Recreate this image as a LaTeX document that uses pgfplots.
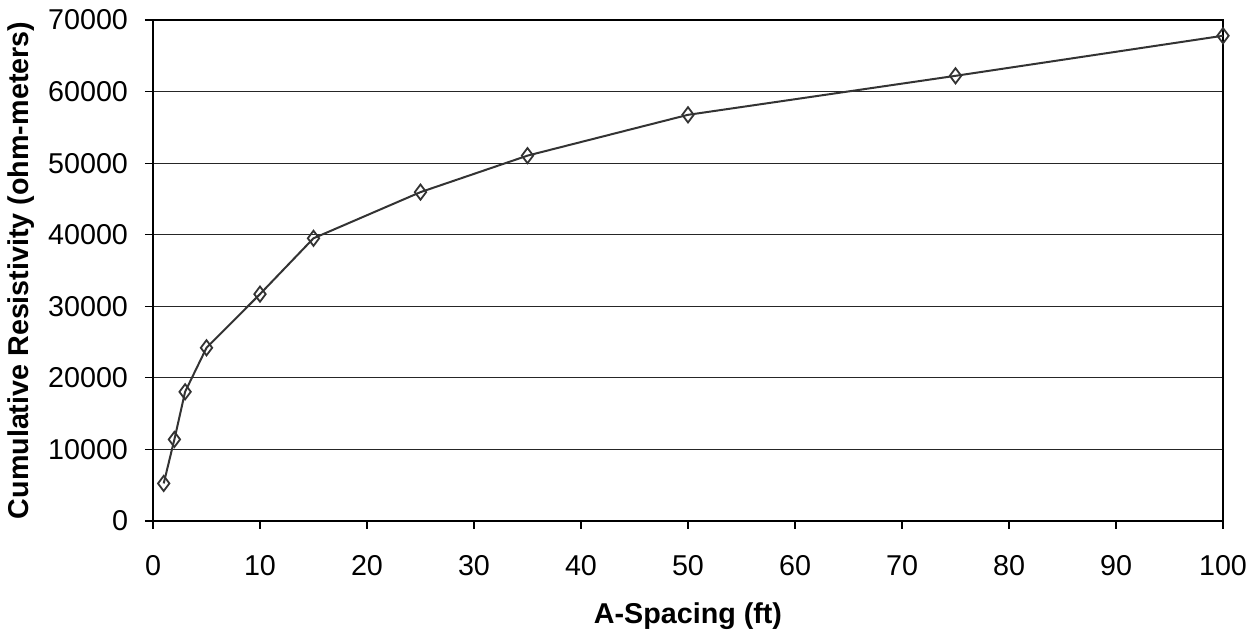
\documentclass[border=0pt]{standalone}
\usepackage{pgfplots}
\pgfplotsset{compat=1.18}
\usepackage{fontspec}
\setmainfont{Liberation Sans}
\begin{document}
\begin{tikzpicture}
\begin{axis}[
  scale only axis,
  width=535bp, height=250.5bp,
  xmin=0, xmax=100, ymin=0, ymax=70000,
  xtick={0,10,...,100},
  ytick={0,10000,...,70000},
  xtick pos=bottom, ytick pos=left,
  scaled y ticks=false,
  /pgf/number format/assume math mode=true,
  /pgf/number format/set thousands separator={},
  tick label style={font=\fontsize{14.4}{16}\selectfont},
  xticklabel style={yshift=-9.5bp},
  yticklabel style={xshift=-5bp},
  tick align=outside,
  major tick length=4bp,
  tick style={black, line width=0.6bp},
  axis line style={black, line width=1.3bp},
  ymajorgrids,
  major grid style={black!85, line width=0.5bp},
  xlabel={\bfseries A-Spacing (ft)},
  ylabel={\bfseries Cumulative Resistivity (ohm-meters)},
  label style={font=\fontsize{14.4}{16}\selectfont},
  xlabel style={yshift=-7bp},
  ylabel style={yshift=0bp},
  clip=false,
]
\addplot[color=black!80, line width=1bp, mark=diamond, mark size=3.8bp, mark options={solid, line width=0.9bp, fill=white}]
coordinates {
(1,5250) (2,11400) (3,18050) (5,24200) (10,31700) (15,39500) (25,45950) (35,51050) (50,56750) (75,62200) (100,67800)
};
\end{axis}
\path ([shift={(-76.5bp,-53.5bp)}]current axis.south west) rectangle ([shift={(18.5bp,10bp)}]current axis.north east);
\end{tikzpicture}
\end{document}
